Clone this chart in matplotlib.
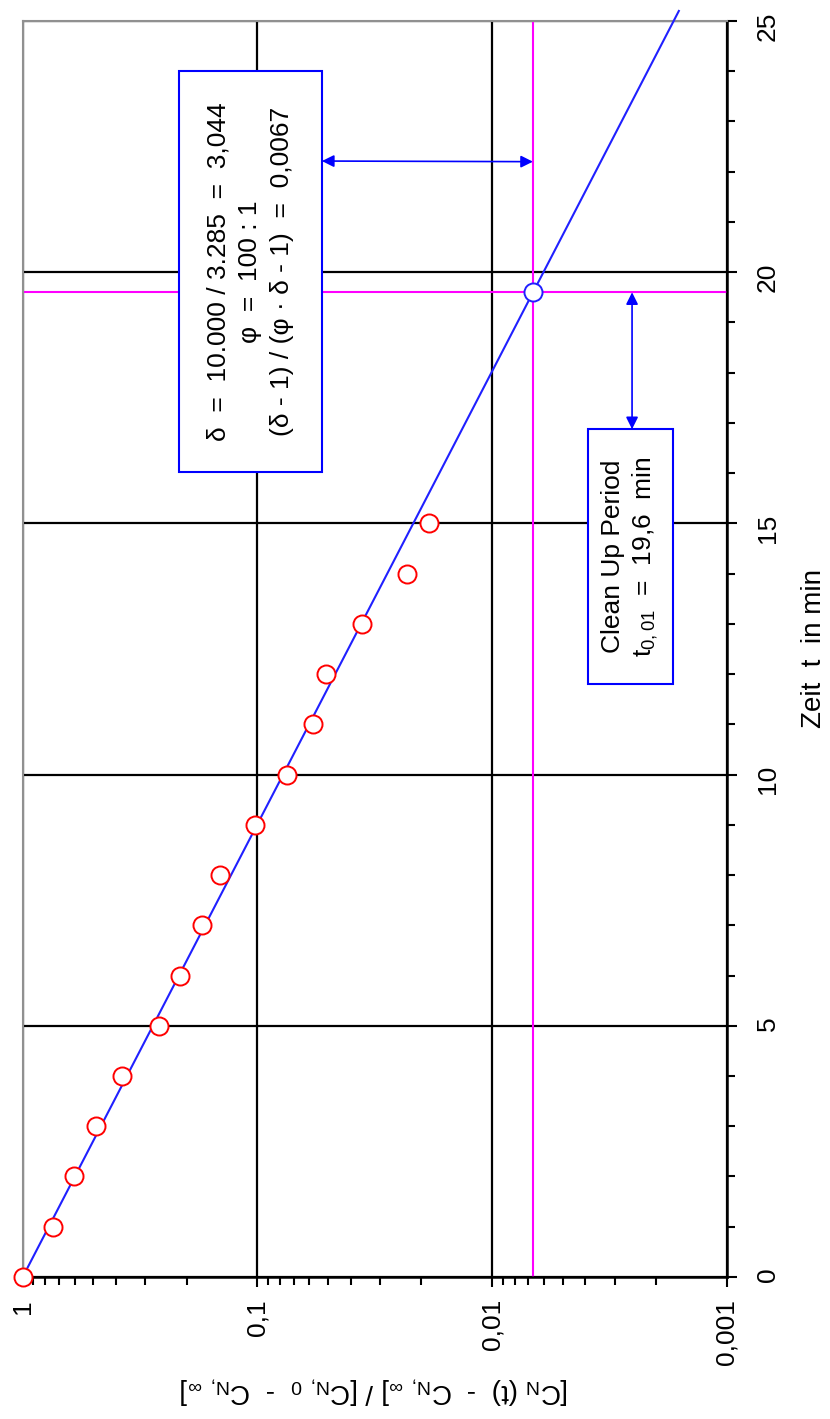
import matplotlib
matplotlib.use('Agg')
import matplotlib.pyplot as plt
from matplotlib import font_manager
from matplotlib.patches import Rectangle
from matplotlib.ticker import FixedLocator, FixedFormatter, LogLocator, MultipleLocator, NullFormatter

# pick an Arial-like narrow face if there is one
names = {f.name for f in font_manager.fontManager.ttflist}
font = 'Liberation Sans Narrow' if 'Liberation Sans Narrow' in names else 'Liberation Sans'
plt.rcParams['font.family'] = [font, 'DejaVu Sans']
plt.rcParams['mathtext.fontset'] = 'custom'
plt.rcParams['mathtext.rm'] = font
plt.rcParams['mathtext.it'] = font

# measured points (time in min, normalised concentration)
t_meas = [0, 1, 2, 3, 4, 5, 6, 7, 8, 9, 10, 11, 12, 13, 14, 15]
c_meas = [1.0, 0.741, 0.603, 0.489, 0.379, 0.263, 0.214, 0.172, 0.144,
          0.102, 0.075, 0.058, 0.051, 0.036, 0.023, 0.0186]

# fitted line end points
fit_t = [0, 25.2]
fit_c = [1.0, 0.0016]

# clean up point
t_clean = 19.6
c_clean = 0.0067

t_ticks = [0, 5, 10, 15, 20, 25]
t_labels = ['0', '5', '10', '15', '20', '25']
c_ticks = [1, 0.1, 0.01, 0.001]
c_labels = ['1', '0,1', '0,01', '0,001']

fig = plt.figure(figsize=(8.3, 14.19), dpi=100)
ax = fig.add_axes([0.0274, 0.1001, 0.8482, 0.8851])
ax.set_xscale('log')
ax.set_xlim(1, 0.001)
ax.set_ylim(0, 25)
ax.set_axisbelow(True)

ax.xaxis.set_major_locator(FixedLocator(c_ticks))
ax.xaxis.set_major_formatter(FixedFormatter(c_labels))
ax.xaxis.set_minor_locator(LogLocator(base=10, subs=range(2, 10)))
ax.xaxis.set_minor_formatter(NullFormatter())
ax.yaxis.set_major_locator(FixedLocator(t_ticks))
ax.yaxis.set_major_formatter(FixedFormatter(t_labels))
ax.yaxis.set_minor_locator(MultipleLocator(1))
ax.yaxis.tick_right()
ax.yaxis.set_label_position('right')

ax.tick_params(which='both', direction='out', width=1.5, color='black')
ax.tick_params(which='major', length=7)
ax.tick_params(which='minor', length=5.5)
ax.tick_params(axis='x', which='major', labelsize=19, labelrotation=90, pad=9)
ax.tick_params(axis='y', which='major', labelsize=19, labelrotation=90, pad=14)

for side in ['left', 'top']:
    ax.spines[side].set_color('#909090')
    ax.spines[side].set_linewidth(1.5)
for side in ['right', 'bottom']:
    ax.spines[side].set_color('black')
    ax.spines[side].set_linewidth(1.8)

ax.grid(which='major', color='black', linewidth=1.6)

ax.axvline(c_clean, color='#FF00FF', lw=1.5, zorder=2)
ax.axhline(t_clean, color='#FF00FF', lw=1.5, zorder=2)

ax.plot(fit_c, fit_t, color='#2020FF', lw=1.5, zorder=3, clip_on=False)
ax.plot(c_meas, t_meas, 'o', ms=13, mfc='white', mec='red', mew=1.4,
        zorder=5, clip_on=False)
ax.plot([c_clean], [t_clean], 'o', ms=13, mfc='white', mec='#2020FF',
        mew=1.4, zorder=6)

ax.set_ylabel('Zeit  t  in min', fontsize=20, labelpad=15)
ax.set_xlabel(r'[C$_\mathrm{N}$ (t)  -  C$_\mathrm{N,\ \infty}$] / '
              r'[C$_\mathrm{N,\ 0}$  -  C$_\mathrm{N,\ \infty}$]',
              fontsize=20, rotation=180, labelpad=7)

# info box
ax.add_patch(Rectangle((0.222, 0.641), 0.203, 0.319, transform=ax.transAxes,
                       facecolor='white', edgecolor='blue', lw=1.5, zorder=4))
ax.text(0.3235, 0.8005,
        'δ  =  10.000 / 3.285  =  3,044\nφ  =  100 : 1\n(δ - 1) / (φ · δ - 1)  =  0,0067',
        transform=ax.transAxes, rotation=90, ha='center', va='center',
        multialignment='center', fontsize=19, linespacing=1.4, zorder=5)

# clean up box
ax.add_patch(Rectangle((0.803, 0.472), 0.121, 0.203, transform=ax.transAxes,
                       facecolor='white', edgecolor='blue', lw=1.5, zorder=4))
ax.text(0.8635, 0.5735, 'Clean Up Period\nt$_{0,01}$  =  19,6  min',
        transform=ax.transAxes, rotation=90, ha='center', va='center',
        multialignment='center', fontsize=19, linespacing=1.3, zorder=5)

arrow = dict(arrowstyle='<|-|>', color='blue', lw=1.2, shrinkA=0, shrinkB=0,
             mutation_scale=18)
ax.annotate('', xy=(c_clean, 22.2), xytext=(0.425, 0.8885),
            xycoords='data', textcoords='axes fraction', arrowprops=arrow, zorder=4)
ax.annotate('', xy=(0.8655, t_clean), xytext=(0.8655, 0.675),
            xycoords=('axes fraction', 'data'), textcoords='axes fraction',
            arrowprops=arrow, zorder=4)

fig.savefig('out.png', dpi=100, facecolor='white')
